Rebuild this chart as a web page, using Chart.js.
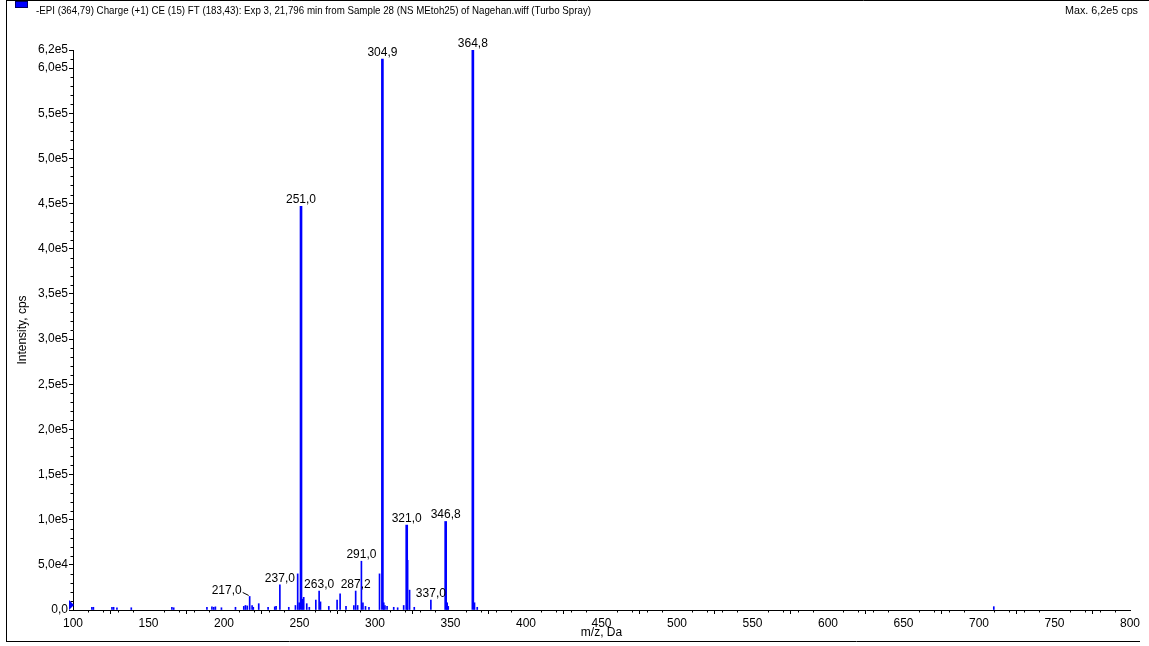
<!DOCTYPE html>
<html><head><meta charset="utf-8">
<script src="https://cdn.jsdelivr.net/npm/chart.js@4/dist/chart.umd.min.js"></script>
<style>html,body{margin:0;padding:0;background:#fff;overflow:hidden}canvas{display:block}</style>
</head><body>
<canvas id="c" width="1149" height="646"></canvas>
<script>
// ---- data ----
const mzValues = [112.5,113.5,125.8,126.9,129.1,138.6,165.5,166.7,188.7,192.0,193.2,194.3,198.3,207.6,213.1,214.2,215.4,217.0,218.6,219.4,223.0,229.2,233.6,234.5,237.0,242.9,247.3,248.8,249.8,251.0,251.9,252.8,254.8,256.5,260.8,263.0,263.9,269.4,274.9,276.9,280.8,286.0,287.2,288.5,291.0,292.0,293.7,296.0,303.0,304.9,305.8,306.6,308.0,312.4,315.0,319.0,321.0,321.6,322.9,326.0,337.0,346.8,347.8,348.5,364.8,365.9,367.7,709.8];
const intensityValues = [3000,3000,3000,3000,2500,2500,3000,2500,3000,3500,3000,3500,2500,3000,4000,5000,4500,15000,5000,3000,7000,3000,3500,4000,28000,3000,5000,40000,8000,447000,12000,14000,7000,3000,11000,21000,9000,4000,11000,18000,4000,5000,21000,5000,54000,8000,4000,3000,40000,610000,8000,5000,4000,3000,2500,5000,94000,55000,22000,3000,11000,98000,8000,4000,620000,8000,3000,3700];
const peakLabelMz = [217.0,237.0,251.0,263.0,287.2,291.0,304.9,321.0,337.0,346.8,364.8];
const peakLabelText = ['217,0','237,0','251,0','263,0','287,2','291,0','304,9','321,0','337,0','346,8','364,8'];
const yTickValues = [0,50000,100000,150000,200000,250000,300000,350000,400000,450000,500000,550000,600000,620000];
const yTickLabels = ['0,0','5,0e4','1,0e5','1,5e5','2,0e5','2,5e5','3,0e5','3,5e5','4,0e5','4,5e5','5,0e5','5,5e5','6,0e5','6,2e5'];
const xTickValues = [100,150,200,250,300,350,400,450,500,550,600,650,700,750,800];
const xTickLabels = ['100','150','200','250','300','350','400','450','500','550','600','650','700','750','800'];
const headerText = '-EPI (364,79) Charge (+1) CE (15) FT (183,43): Exp 3, 21,796 min from Sample 28 (NS MEtoh25) of Nagehan.wiff (Turbo Spray)';
const maxText = 'Max. 6,2e5 cps';
const xTitle = 'm/z, Da';
const yTitle = 'Intensity, cps';

// ---- styles ----
const FONT = '"Liberation Sans", Arial, sans-serif';
const BLUE = '#0000ff';
const BIG = 80000; // peaks drawn with a thicker stick

const decor = {
  id: 'decor',
  afterDraw(chart) {
    const ctx = chart.ctx;
    const xs = chart.scales.x, ys = chart.scales.y;
    ctx.save();
    ctx.strokeStyle = '#000'; ctx.lineWidth = 1;
    ctx.beginPath();
    ctx.moveTo(6, 0.5); ctx.lineTo(1149, 0.5);
    ctx.moveTo(6.5, 0); ctx.lineTo(6.5, 642);
    ctx.moveTo(6, 641.5); ctx.lineTo(1140, 641.5);
    ctx.stroke();
    ctx.fillStyle = BLUE; ctx.fillRect(15, 1, 13, 7);
    ctx.strokeStyle = '#000060'; ctx.strokeRect(15.5, 1.5, 12, 6);
    ctx.fillStyle = '#000';
    ctx.font = '11px ' + FONT;
    ctx.textBaseline = 'middle';
    ctx.textAlign = 'left';
    ctx.fillText(headerText, 36, 11, 555);
    ctx.textAlign = 'right';
    ctx.fillText(maxText, 1138, 11, 73);
    ctx.beginPath();
    const yl = ys.right;
    for (let v = 10000; v < 620000; v += 10000) {
      if (v % 50000 === 0) continue;
      const p = Math.round(ys.getPixelForValue(v)) + 0.5;
      ctx.moveTo(yl - 2.5, p); ctx.lineTo(yl, p);
    }
    const xb = xs.top;
    for (let v = 110; v < 800; v += 10) {
      if (v % 50 === 0) continue;
      const p = Math.round(xs.getPixelForValue(v)) + 0.5;
      ctx.moveTo(p, xb); ctx.lineTo(p, xb + 2.5);
    }
    ctx.strokeStyle = '#000'; ctx.stroke();
    ctx.font = '12px ' + FONT;
    ctx.textBaseline = 'alphabetic';
    peakLabelMz.forEach((m, i) => {
      const idx = mzValues.indexOf(m);
      const px = xs.getPixelForValue(m);
      const py = ys.getPixelForValue(intensityValues[idx]);
      if (i === 0) {
        ctx.textAlign = 'right';
        ctx.fillText(peakLabelText[i], px - 8, py - 2);
        ctx.beginPath();
        ctx.moveTo(px - 7, py - 4); ctx.lineTo(px - 1, py - 1);
        ctx.strokeStyle = '#000'; ctx.stroke();
      } else {
        ctx.textAlign = 'center';
        ctx.fillText(peakLabelText[i], px, py - 3);
      }
    });
    const ox = xs.getPixelForValue(100), oy = ys.getPixelForValue(0);
    ctx.fillStyle = BLUE;
    ctx.beginPath();
    ctx.moveTo(ox - 4, oy - 10); ctx.lineTo(ox + 1, oy - 5); ctx.lineTo(ox - 4, oy); ctx.closePath();
    ctx.fill();
    ctx.restore();
  }
};

const points = mzValues.map((m, i) => ({ x: m, y: intensityValues[i] }));
const tickFont = { family: FONT, size: 12 };
new Chart(document.getElementById('c').getContext('2d'), {
  type: 'bar',
  data: {
    datasets: [
      { data: points.filter(p => p.y >= BIG), backgroundColor: BLUE, borderWidth: 0, barThickness: 2, grouped: false },
      { data: points.filter(p => p.y < BIG), backgroundColor: BLUE, borderWidth: 0, barThickness: 1, grouped: false }
    ]
  },
  options: {
    responsive: false,
    animation: false,
    devicePixelRatio: 1,
    layout: { padding: { left: 0, top: 50, right: 19, bottom: 0 } },
    plugins: { legend: { display: false }, tooltip: { enabled: false } },
    scales: {
      x: {
        type: 'linear', min: 100, max: 800, offset: false,
        afterBuildTicks: s => { s.ticks = xTickValues.map(v => ({ value: v })); },
        afterFit: s => { s.height = 36; },
        ticks: { callback: v => xTickLabels[xTickValues.indexOf(v)], font: tickFont, color: '#000', padding: 2, maxRotation: 0, autoSkip: false },
        grid: { display: true, drawOnChartArea: false, drawTicks: true, tickLength: 4, tickColor: '#000', tickWidth: 1 },
        border: { display: true, color: '#000', width: 1 },
        title: { display: true, text: xTitle, font: tickFont, color: '#000', padding: { top: 0, bottom: 6 } }
      },
      y: {
        type: 'linear', min: 0, max: 620000,
        afterBuildTicks: s => { s.ticks = yTickValues.map(v => ({ value: v })); },
        afterFit: s => { s.width = 73; },
        ticks: { callback: v => yTickLabels[yTickValues.indexOf(v)], font: tickFont, color: '#000', padding: 1, autoSkip: false },
        grid: { display: true, drawOnChartArea: false, drawTicks: true, tickLength: 4, tickColor: '#000', tickWidth: 1 },
        border: { display: true, color: '#000', width: 1 },
        title: { display: true, text: yTitle, font: tickFont, color: '#000', padding: { top: 15, bottom: 0 } }
      }
    }
  },
  plugins: [decor]
});
</script>
</body></html>
